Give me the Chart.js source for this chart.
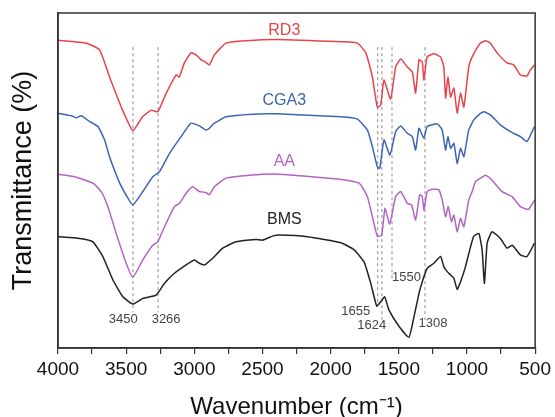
<!DOCTYPE html>
<html>
<head>
<meta charset="utf-8">
<script src="https://cdn.jsdelivr.net/npm/chart.js@4.4.1/dist/chart.umd.min.js"></script>
<style>
  html, body { margin: 0; padding: 0; background: #fff; }
  #wrap { width: 555px; height: 417px; }
</style>
</head>
<body>
<div id="wrap"><canvas id="ftir-chart" width="555" height="417"></canvas></div>
<script>
// FTIR spectra, transmittance in arbitrary units (curves are offset vertically)
const rd3Wn = [4000, 3792, 3695, 3622, 3526, 3451, 3380, 3316, 3268, 3206, 3133, 3110, 3073, 3024, 2987, 2950, 2920, 2890, 2853, 2767, 2621, 2400, 1925, 1804, 1742, 1694, 1658, 1633, 1609, 1560, 1523, 1486, 1438, 1401, 1377, 1352, 1328, 1316, 1292, 1243, 1194, 1170, 1157, 1140, 1120, 1096, 1072, 1047, 1023, 987, 962, 926, 901, 864, 828, 779, 706, 657, 608, 560, 535, 505];
const rd3T = [91.9, 91.0, 89.0, 80.9, 71.0, 64.9, 69.0, 71.0, 70.5, 76.1, 81.5, 80.9, 85.1, 88.1, 87.5, 86.0, 85.4, 84.5, 87.5, 91.0, 91.7, 92.1, 91.4, 91.0, 88.1, 80.9, 71.9, 72.5, 80.0, 74.3, 83.9, 86.3, 83.9, 82.4, 76.1, 86.0, 85.4, 80.0, 86.9, 87.8, 86.9, 83.9, 74.6, 80.9, 74.9, 77.6, 70.1, 76.1, 71.9, 83.9, 86.9, 89.6, 91.0, 91.7, 91.0, 88.1, 85.1, 84.5, 81.5, 81.2, 83.0, 84.5];

const cga3Wn = [4000, 3900, 3865, 3830, 3768, 3707, 3658, 3622, 3548, 3488, 3451, 3378, 3305, 3256, 3182, 3097, 3024, 2963, 2914, 2890, 2853, 2767, 2574, 2400, 1925, 1804, 1731, 1694, 1658, 1640, 1609, 1565, 1523, 1486, 1438, 1401, 1377, 1352, 1316, 1292, 1218, 1182, 1157, 1140, 1120, 1096, 1072, 1047, 1023, 987, 950, 913, 877, 828, 755, 682, 608, 560, 505];
const cga3T = [70.1, 69.3, 68.7, 69.3, 67.6, 66.1, 62.1, 57.1, 49.3, 44.8, 42.7, 46.7, 51.1, 52.6, 58.1, 63.1, 67.1, 66.3, 65.1, 65.6, 67.1, 69.0, 69.8, 69.9, 69.0, 68.3, 65.1, 60.1, 54.1, 53.6, 62.1, 57.6, 64.6, 66.3, 64.1, 63.1, 59.1, 65.6, 62.6, 66.1, 66.9, 65.1, 59.1, 63.1, 59.6, 61.1, 55.1, 59.6, 57.1, 65.1, 68.1, 69.6, 70.5, 69.6, 66.6, 64.6, 63.1, 61.6, 66.1];

const aaWn = [4000, 3865, 3744, 3683, 3634, 3573, 3500, 3451, 3378, 3305, 3268, 3219, 3146, 3109, 3060, 3012, 2963, 2914, 2890, 2853, 2767, 2597, 2377, 1937, 1791, 1731, 1694, 1658, 1626, 1601, 1567, 1523, 1486, 1438, 1406, 1377, 1347, 1328, 1316, 1292, 1255, 1206, 1182, 1157, 1138, 1114, 1096, 1072, 1047, 1023, 987, 962, 938, 901, 864, 816, 743, 669, 608, 548, 504];
const aaT = [51.9, 51.0, 49.2, 46.7, 42.2, 34.2, 25.3, 21.1, 26.3, 30.7, 31.7, 36.2, 42.2, 43.2, 46.2, 48.1, 46.7, 46.4, 45.7, 48.1, 50.7, 51.6, 51.9, 50.4, 49.2, 45.2, 39.2, 33.4, 33.7, 41.7, 37.0, 45.2, 46.7, 43.2, 42.7, 38.2, 45.7, 45.2, 41.2, 46.7, 47.4, 47.2, 44.2, 39.2, 42.2, 37.7, 39.7, 34.7, 38.7, 36.2, 44.2, 46.7, 49.6, 50.7, 51.6, 50.1, 46.7, 45.2, 42.2, 41.4, 44.2];

const bmsWn = [4000, 3841, 3744, 3671, 3597, 3524, 3451, 3378, 3280, 3219, 3146, 3060, 3000, 2963, 2926, 2865, 2792, 2694, 2548, 2499, 2426, 2377, 2170, 1925, 1828, 1755, 1706, 1662, 1633, 1604, 1572, 1499, 1426, 1389, 1352, 1328, 1292, 1243, 1194, 1170, 1145, 1120, 1096, 1072, 1047, 1011, 974, 950, 913, 889, 872, 852, 816, 755, 706, 669, 608, 560, 505];
const bmsT = [33.2, 32.7, 31.7, 27.3, 20.3, 15.3, 13.1, 14.8, 15.8, 19.3, 22.3, 24.8, 26.3, 25.3, 24.8, 26.8, 29.8, 31.7, 32.4, 32.2, 33.4, 33.7, 33.2, 31.4, 29.3, 25.7, 19.3, 12.5, 13.8, 15.3, 11.3, 6.5, 3.2, 9.3, 16.3, 19.8, 23.8, 25.3, 27.3, 24.3, 22.8, 21.8, 20.8, 17.5, 19.8, 24.3, 30.2, 33.4, 34.2, 29.3, 19.3, 31.3, 34.7, 32.7, 29.8, 30.7, 27.8, 27.3, 31.3];

// marked bands
const peakWn = [3450, 3266, 1655, 1624, 1550, 1308];
const peakTop = [89.8, 89.8, 89.8, 89.8, 89.8, 89.8];
const peakBottom = [10.7, 10.7, 12.5, 8.4, 20.3, 8.4];
const peakLabels = ['3450', '3266', '1655', '1624', '1550', '1308'];

const seriesNames = ['RD3', 'CGA3', 'AA', 'BMS'];
const xTicks = [4000, 3500, 3000, 2500, 2000, 1500, 1000, 500];

// label placement (data units) and colours
const seriesColors = ['#e8434b', '#3c64b4', '#b463c4', '#222222'];
const nameLabelPos = [[2340, 94.6], [2340, 74.0], [2340, 55.5], [2340, 38.2]];
const peakLabelPos = [[3521, 8.4], [3207, 8.4], [1816, 10.8], [1699, 6.6], [1444, 21.1], [1250, 7.2]];

const FONT = '"Liberation Sans", Arial, Helvetica, sans-serif';

function toPoints(xs, ys) {
  return xs.map((x, i) => ({ x: x, y: ys[i] }));
}

const spectra = [[rd3Wn, rd3T], [cga3Wn, cga3T], [aaWn, aaT], [bmsWn, bmsT]];

const datasets = [];
peakWn.forEach((wn, i) => {
  datasets.push({
    label: peakLabels[i],
    data: [{ x: wn, y: peakTop[i] }, { x: wn, y: peakBottom[i] }],
    borderColor: '#8a8a8a',
    borderWidth: 1,
    borderDash: [3, 3],
    pointRadius: 0,
    order: 5
  });
});
spectra.forEach((s, i) => {
  datasets.push({
    label: seriesNames[i],
    data: toPoints(s[0], s[1]),
    borderColor: seriesColors[i],
    borderWidth: 1.5,
    pointRadius: 0,
    tension: 0.15,
    order: 1
  });
});

const textPlugin = {
  id: 'ftirText',
  afterDatasetsDraw(chart) {
    const c = chart.ctx;
    const xs = chart.scales.x, ys = chart.scales.y;
    c.save();
    c.textAlign = 'center';
    c.textBaseline = 'middle';
    c.font = '16px ' + FONT;
    seriesNames.forEach((name, i) => {
      c.fillStyle = seriesColors[i];
      c.fillText(name, xs.getPixelForValue(nameLabelPos[i][0]), ys.getPixelForValue(nameLabelPos[i][1]));
    });
    c.font = '13px ' + FONT;
    c.fillStyle = '#444';
    peakLabels.forEach((t, i) => {
      c.fillText(t, xs.getPixelForValue(peakLabelPos[i][0]), ys.getPixelForValue(peakLabelPos[i][1]));
    });
    // frame round the plot
    const a = chart.chartArea;
    c.strokeStyle = '#333';
    c.lineWidth = 1.5;
    c.strokeRect(a.left, a.top, a.right - a.left, a.bottom - a.top);
    c.restore();
  }
};

new Chart(document.getElementById('ftir-chart'), {
  type: 'line',
  data: { datasets: datasets },
  options: {
    responsive: false,
    animation: false,
    layout: { padding: { left: 10, top: 13, right: 19, bottom: 0 } },
    plugins: {
      legend: { display: false },
      tooltip: { enabled: false }
    },
    scales: {
      x: {
        type: 'linear',
        reverse: true,
        min: 500,
        max: 4000,
        afterFit(scale) { scale.height = 69; },
        border: { display: true, color: '#333', width: 1.5 },
        grid: { drawOnChartArea: false, drawTicks: true, tickLength: 6, color: '#333', lineWidth: 1.2 },
        ticks: {
          stepSize: 250,
          autoSkip: false,
          maxRotation: 0,
          padding: 4,
          color: '#111',
          font: { family: FONT, size: 19 },
          callback: (v) => (xTicks.includes(v) ? String(v) : '')
        },
        title: {
          display: true,
          text: 'Wavenumber (cm⁻¹)',
          color: '#111',
          font: { family: FONT, size: 24, lineHeight: 1 },
          padding: { top: 0, bottom: -2 }
        }
      },
      y: {
        min: 0,
        max: 100,
        afterFit(scale) { scale.width = 48; },
        border: { display: true, color: '#333', width: 1.5 },
        grid: { display: false },
        ticks: { display: false },
        title: {
          display: true,
          text: 'Transmittance (%)',
          color: '#111',
          font: { family: FONT, size: 27, lineHeight: 1 },
          padding: { top: 0, bottom: 0 }
        }
      }
    }
  },
  plugins: [textPlugin]
});
</script>
</body>
</html>
